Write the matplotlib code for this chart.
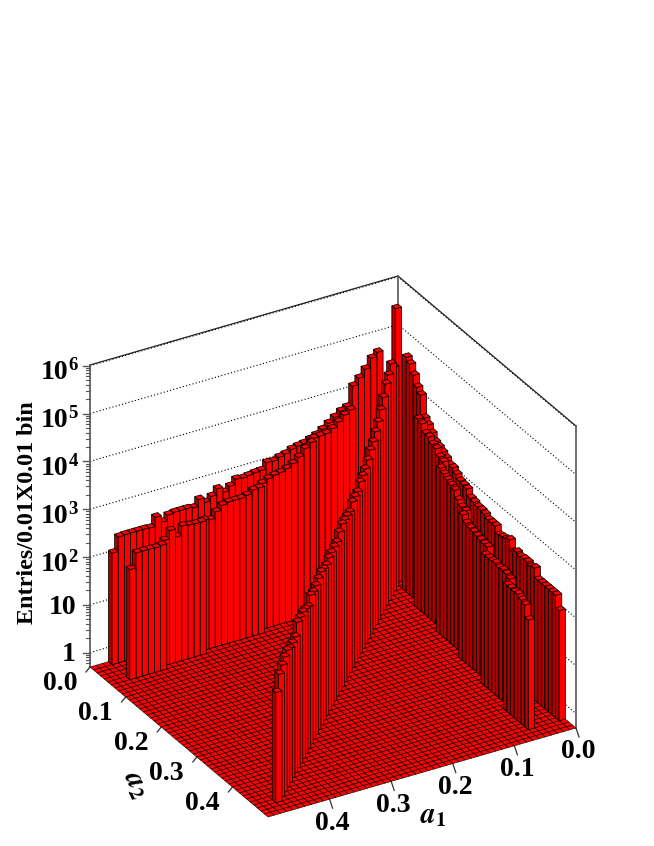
import numpy as np
import matplotlib
matplotlib.use('Agg')
import matplotlib.pyplot as plt
from matplotlib.collections import PolyCollection

# log10(entries)
# back row along a1: a2 bin 0, a1 bins 3..46
back_a1 = [4.63, 4.54, 4.35, 4.20, 4.07, 3.67, 3.62, 3.53, 3.44, 3.35, 3.27, 3.22, 3.17, 3.15,
           3.12, 3.06, 3.03, 2.98, 2.99, 2.86, 2.85, 2.83, 2.81, 2.83, 2.72, 2.63, 2.74, 2.62,
           2.53, 2.63, 2.49, 2.51, 2.51, 2.51, 2.49, 2.38, 2.52, 2.33, 2.34, 2.34, 2.34, 2.34,
           2.33, 2.03]
# back row along a2: a1 bin 0, a2 bins 3..46
back_a2 = [4.60, 4.52, 4.35, 4.16, 4.06, 3.64, 3.56, 3.45, 3.33, 3.29, 3.24, 3.18, 3.10, 3.10,
           3.03, 2.95, 2.93, 2.91, 2.78, 2.76, 2.72, 2.72, 2.70, 2.64, 2.64, 2.64, 2.51, 2.53,
           2.55, 2.60, 2.41, 2.47, 2.43, 2.45, 2.45, 2.41, 2.45, 2.26, 2.26, 2.26, 2.26, 2.26,
           2.26, 2.00]
# front row on the left, a1 bins 8..46 with their a2 bin
front_l_i = list(range(8, 47))
front_l_j = [1] * 7 + [2] * 9 + [3] * 10 + [4] * 7 + [5] * 6
front_l_v = [3.67, 3.60, 3.49, 3.39, 3.32, 3.31, 3.30, 3.31, 3.22, 3.08, 2.98, 2.91, 2.87, 2.85,
             2.81, 2.75, 2.76, 2.75, 2.68, 2.65, 2.65, 2.65, 2.62, 2.52, 2.39, 2.42, 2.48, 2.48,
             2.49, 2.51, 2.32, 2.49, 2.32, 2.32, 2.30, 2.31, 2.31, 2.31, 2.00]
# front row on the right, a2 bins 8..46 with their a1 bin
front_r_j = list(range(8, 47))
front_r_i = [1] * 8 + [2] * 8 + [3] * 8 + [4] * 8 + [5] * 7
front_r_v = [3.66, 3.62, 3.48, 3.47, 3.38, 3.35, 3.24, 3.20, 3.17, 3.11, 3.05, 3.00, 2.96, 2.82,
             2.73, 2.71, 2.73, 2.62, 2.58, 2.56, 2.54, 2.52, 2.50, 2.50, 2.43, 2.43, 2.43, 2.45,
             2.41, 2.43, 2.41, 2.37, 2.34, 2.34, 2.32, 2.34, 2.28, 2.24, 1.99]
# diagonal a1 = a2, bins 0..46
diag = [5.43, 4.30, 4.47, 4.34, 4.25, 4.07, 3.91, 3.76, 3.65, 3.54, 3.47, 3.36, 3.27, 3.23,
        3.20, 3.09, 3.09, 3.08, 2.97, 2.99, 3.00, 3.02, 2.95, 2.84, 2.84, 2.82, 2.81, 2.76,
        2.78, 2.82, 2.78, 2.73, 2.70, 2.73, 2.59, 2.64, 2.68, 2.67, 2.67, 2.46, 2.43, 2.42,
        2.48, 2.44, 2.37, 2.28, 2.00]

n_bins = 50
log_min = -0.301
log_max = 6.017
z_major = [0, 1, 2, 3, 4, 5, 6]
xy_ticks = [0.0, 0.1, 0.2, 0.3, 0.4]

plt.rcParams['font.family'] = ['Liberation Serif', 'DejaVu Serif']
plt.rcParams['mathtext.fontset'] = 'stix'


def proj(i, j, lz):
    # bin units -> picture pixels, ROOT lego view
    x = 398 - 6.16 * np.asarray(i, float) + 3.56 * np.asarray(j, float)
    y = 578 + 1.78 * np.asarray(i, float) + 3.0 * np.asarray(j, float) - 47.8 * (np.asarray(lz, float) - log_min)
    return x, y


def poly(*pts):
    return np.array([proj(*p) for p in pts])


hist = {}
for k, v in enumerate(back_a1):
    hist[(k + 3, 0)] = v
for k, v in enumerate(back_a2):
    hist[(0, k + 3)] = v
for i, j, v in zip(front_l_i, front_l_j, front_l_v):
    hist[(i, j)] = v
for i, j, v in zip(front_r_i, front_r_j, front_r_v):
    hist[(i, j)] = v
for k, v in enumerate(diag):
    hist[(k, k)] = v

fig = plt.figure(figsize=(6.54, 8.46), dpi=100)
ax = fig.add_axes([0, 0, 1, 1])
ax.set_xlim(0, 654)
ax.set_ylim(846, 0)
ax.axis('off')

# walls and grid
for lz in z_major:
    ax.plot(*zip(proj(50, 0, lz), proj(0, 0, lz), proj(0, 50, lz)), color='black', lw=0.8,
            ls=(0, (1, 2)), zorder=1)
ax.plot(*zip(proj(50, 0, log_max), proj(0, 0, log_max), proj(0, 50, log_max)), color='#222222', lw=0.9, zorder=1)
for c in [(50, 0), (0, 0), (0, 50)]:
    ax.plot(*zip(proj(c[0], c[1], log_min), proj(c[0], c[1], log_max)), color='#555555', lw=1.2, zorder=1)

# floor cells
floor = []
for i in range(n_bins):
    for j in range(n_bins):
        floor.append(poly((i, j, log_min), (i + 1, j, log_min), (i + 1, j + 1, log_min), (i, j + 1, log_min)))
ax.add_collection(PolyCollection(floor, facecolors='#ff0000', edgecolors='black', linewidths=0.4, zorder=2))

# bars, back to front
polys = []
colors = []
for (i, j), v in sorted(hist.items(), key=lambda t: t[0][0] + t[0][1]):
    polys.append(poly((i + 1, j, log_min), (i + 1, j + 1, log_min), (i + 1, j + 1, v), (i + 1, j, v)))
    colors.append('#aa0000')
    polys.append(poly((i, j + 1, log_min), (i + 1, j + 1, log_min), (i + 1, j + 1, v), (i, j + 1, v)))
    colors.append('#ff0000')
    polys.append(poly((i, j, v), (i + 1, j, v), (i + 1, j + 1, v), (i, j + 1, v)))
    colors.append('#ff0000')
ax.add_collection(PolyCollection(polys, facecolors=colors, edgecolors='black', linewidths=0.55, zorder=3))

# z axis
x0, _ = proj(50, 0, 0)
for lz in z_major:
    _, y = proj(50, 0, lz)
    ax.plot([x0 - 7, x0], [y, y], color='#555555', lw=1.0, zorder=1)
    if lz == 0:
        ax.text(76, y + 2, '1', ha='right', va='center', fontsize=20, fontweight='bold')
    elif lz == 1:
        ax.text(76, y + 3, '10', ha='right', va='center', fontsize=20, fontweight='bold')
    else:
        ax.text(68.5, y + 7, '10', ha='right', va='center', fontsize=20, fontweight='bold')
        ax.text(68.5, y, str(lz), ha='left', va='center', fontsize=13.5, fontweight='bold')
for d in range(-1, 6):
    for m in range(2, 10):
        lz = d + np.log10(m)
        if lz < log_min or lz > log_max:
            continue
        _, y = proj(50, 0, lz)
        ax.plot([x0 - 4.5, x0], [y, y], color='#555555', lw=0.8, zorder=1)
ax.text(28, 513, 'Entries/0.01X0.01 bin', rotation=90, ha='center', va='center', fontsize=17.4, fontweight='bold')

# a2 and a1 axes
for t in xy_ticks:
    b = t * 100
    x, y = proj(50, b, log_min)
    ax.plot([x, x - 4], [y, y + 5], color='#333333', lw=0.9, zorder=1)
    ax.text(x - 30, y + 17, '%.1f' % t, ha='center', va='center', fontsize=20, fontweight='bold')
    x, y = proj(b, 50, log_min)
    ax.plot([x, x + 3], [y, y + 9], color='#333333', lw=0.9, zorder=1)
    ax.text(x + 2.5, y + 24, '%.1f' % t, ha='center', va='center', fontsize=20, fontweight='bold')

ax.text(433, 816, r'$\mathbfit{a}_{\mathbf{1}}$', ha='center', va='center', fontsize=21)
ax.text(135, 785, r'$\mathbfit{a}_{\mathbf{2}}$', ha='center', va='center', fontsize=21, rotation=-65)

fig.savefig('out.png', dpi=100)
